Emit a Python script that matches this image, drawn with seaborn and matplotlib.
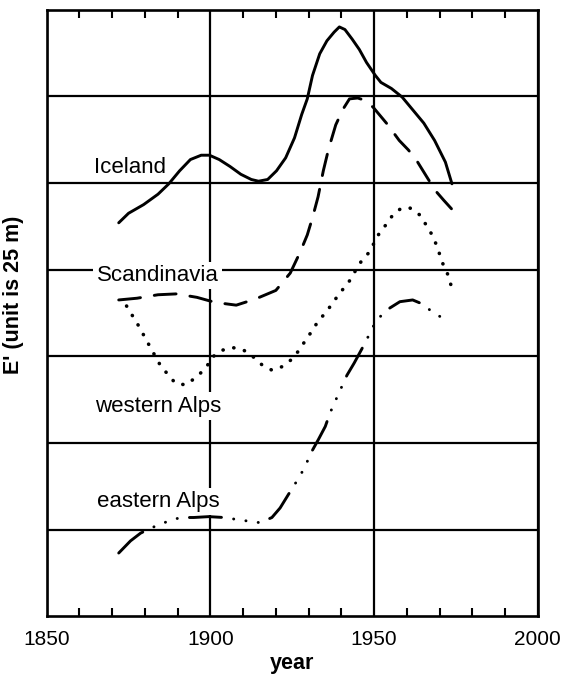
import matplotlib
matplotlib.use("Agg")
import matplotlib.pyplot as plt
import seaborn as sns
from matplotlib.ticker import MultipleLocator

sns.set_style("white")
plt.rcParams['font.family'] = ['Liberation Sans', 'DejaVu Sans']
plt.rcParams['text.color'] = 'black'
plt.rcParams['axes.labelcolor'] = 'black'
plt.rcParams['xtick.color'] = 'black'
plt.rcParams['ytick.color'] = 'black'

# values (y in grid units, 1 unit = one grid row)
iceland_year = [1872, 1875, 1879.6, 1884, 1887.3, 1890.6, 1893.9, 1897.2, 1899.7, 1902.7,
                1906, 1909.3, 1912.5, 1914.7, 1917.5, 1920.2, 1923, 1925.7, 1927.9, 1929.6,
                1931.2, 1933.4, 1935.6, 1937.8, 1939.4, 1941.1, 1943.3, 1945.5, 1947.7, 1950.4,
                1952.1, 1955.3, 1958.6, 1961.9, 1965.2, 1968.5, 1971.8, 1973.8]
iceland_e = [4.54, 4.65, 4.75, 4.87, 4.99, 5.14, 5.27, 5.32, 5.32, 5.27,
             5.19, 5.10, 5.04, 5.02, 5.04, 5.14, 5.29, 5.52, 5.79, 5.97,
             6.24, 6.49, 6.64, 6.74, 6.80, 6.77, 6.66, 6.54, 6.39, 6.24,
             6.16, 6.09, 5.99, 5.84, 5.69, 5.49, 5.24, 4.99]

scand_year = [1872, 1877.6, 1884, 1889.6, 1895.9, 1899.7, 1901.8, 1907.9, 1913.7, 1920,
              1924.4, 1927.4, 1929.6, 1931.2, 1932.9, 1934.5, 1936.1, 1938.3, 1940.5, 1942.5,
              1945, 1947.5, 1949.8, 1954, 1957.7, 1960.5, 1963, 1966.6, 1969, 1971.3, 1973.7]
scand_e = [3.65, 3.67, 3.71, 3.72, 3.68, 3.64, 3.62, 3.59, 3.66, 3.76,
           3.96, 4.20, 4.40, 4.60, 4.84, 5.14, 5.39, 5.67, 5.85, 5.97,
           5.98, 5.95, 5.87, 5.68, 5.49, 5.38, 5.26, 5.04, 4.90, 4.80, 4.70]

walps_year = [1874.4, 1878.1, 1881.7, 1884.8, 1889.3, 1892.4, 1895.4, 1898.8, 1900.2, 1903.6,
              1906.9, 1910.2, 1912.9, 1915.8, 1918.8, 1921.9, 1924.7, 1926.9, 1929, 1931,
              1933, 1935.4, 1937.6, 1939.8, 1942.5, 1944.2, 1946, 1948.5, 1951.6, 1953.9,
              1955.9, 1958.4, 1961, 1964, 1966, 1967.9, 1969.1, 1971.1, 1972.7, 1973.5]
walps_e = [3.58, 3.35, 3.10, 2.89, 2.69, 2.67, 2.75, 2.87, 2.98, 3.07,
           3.10, 3.07, 3.00, 2.90, 2.84, 2.88, 2.96, 3.06, 3.18, 3.29,
           3.41, 3.51, 3.63, 3.74, 3.87, 3.98, 4.09, 4.20, 4.42, 4.53,
           4.64, 4.71, 4.71, 4.63, 4.51, 4.39, 4.28, 4.06, 3.93, 3.82]

ealps_year = [1872, 1875.6, 1878.7, 1883.2, 1887.3, 1890.9, 1894.9, 1899.5, 1904.1, 1907.6,
              1911.2, 1915.2, 1918.8, 1921.3, 1924.4, 1926.9, 1929, 1930.5, 1933, 1935.1,
              1936.6, 1938, 1941.7, 1943.9, 1946.2, 1948.8, 1950.6, 1954.1, 1957.9, 1961.8,
              1965, 1968.1, 1971.1]
ealps_e = [0.73, 0.87, 0.96, 1.04, 1.10, 1.14, 1.14, 1.15, 1.14, 1.12,
           1.10, 1.08, 1.14, 1.25, 1.44, 1.59, 1.73, 1.87, 2.04, 2.19,
           2.35, 2.47, 2.78, 2.92, 3.08, 3.27, 3.41, 3.54, 3.63, 3.65,
           3.60, 3.50, 3.44]

# label text, anchor year, baseline value
labels = ["Iceland", "Scandinavia", "western Alps", "eastern Alps"]
label_year = [1864.3, 1865.3, 1864.8, 1865.3]
label_e = [5.12, 3.87, 2.36, 1.26]

fig = plt.figure(figsize=(5.62, 6.81), dpi=100)
ax = fig.add_axes([0.0831, 0.0950, 0.8737, 0.8909])

sns.lineplot(x=iceland_year, y=iceland_e, ax=ax, color='black', lw=2.1, zorder=3)
sns.lineplot(x=scand_year, y=scand_e, ax=ax, color='black', lw=2.1, zorder=3,
             linestyle=(0, (7.5, 4.8)), dash_capstyle='round')
sns.lineplot(x=walps_year, y=walps_e, ax=ax, color='black', lw=2.6, zorder=3,
             linestyle=(0, (0.05, 3.0)), dash_capstyle='round')
sns.lineplot(x=ealps_year, y=ealps_e, ax=ax, color='black', lw=2.1, zorder=3,
             linestyle=(0, (11, 4.2, 0.05, 4.2, 0.05, 4.2, 0.05, 4.2)), dash_capstyle='round')

for txt, xv, yv in zip(labels, label_year, label_e):
    box = None if txt == "Iceland" else dict(boxstyle='square,pad=0.15', fc='white', ec='none')
    ax.text(xv, yv, txt, fontsize=16, ha='left', va='baseline', bbox=box, zorder=2)

ax.set_xlim(1850, 2000)
ax.set_ylim(0, 7)
ax.set_xticks([1850, 1900, 1950, 2000])
ax.xaxis.set_minor_locator(MultipleLocator(10))
ax.set_yticks([1, 2, 3, 4, 5, 6])
ax.set_yticklabels([])
ax.tick_params(axis='y', length=0)
ax.tick_params(axis='x', which='major', length=0, labelsize=15, pad=10)
ax.tick_params(axis='x', which='minor', direction='in', length=6, width=1.5,
               top=True, bottom=True)

ax.set_axisbelow(True)
ax.grid(True, which='major', color='black', lw=1.6)
for s in ax.spines.values():
    s.set_color('black')
    s.set_linewidth(1.9)

ax.set_xlabel('year', fontsize=15.5, fontweight='bold', labelpad=3)
ax.set_ylabel("E' (unit is 25 m)", fontsize=15.5, fontweight='bold')
ax.yaxis.set_label_coords(-0.046, 0.53)

fig.savefig('out.png', dpi=100)
